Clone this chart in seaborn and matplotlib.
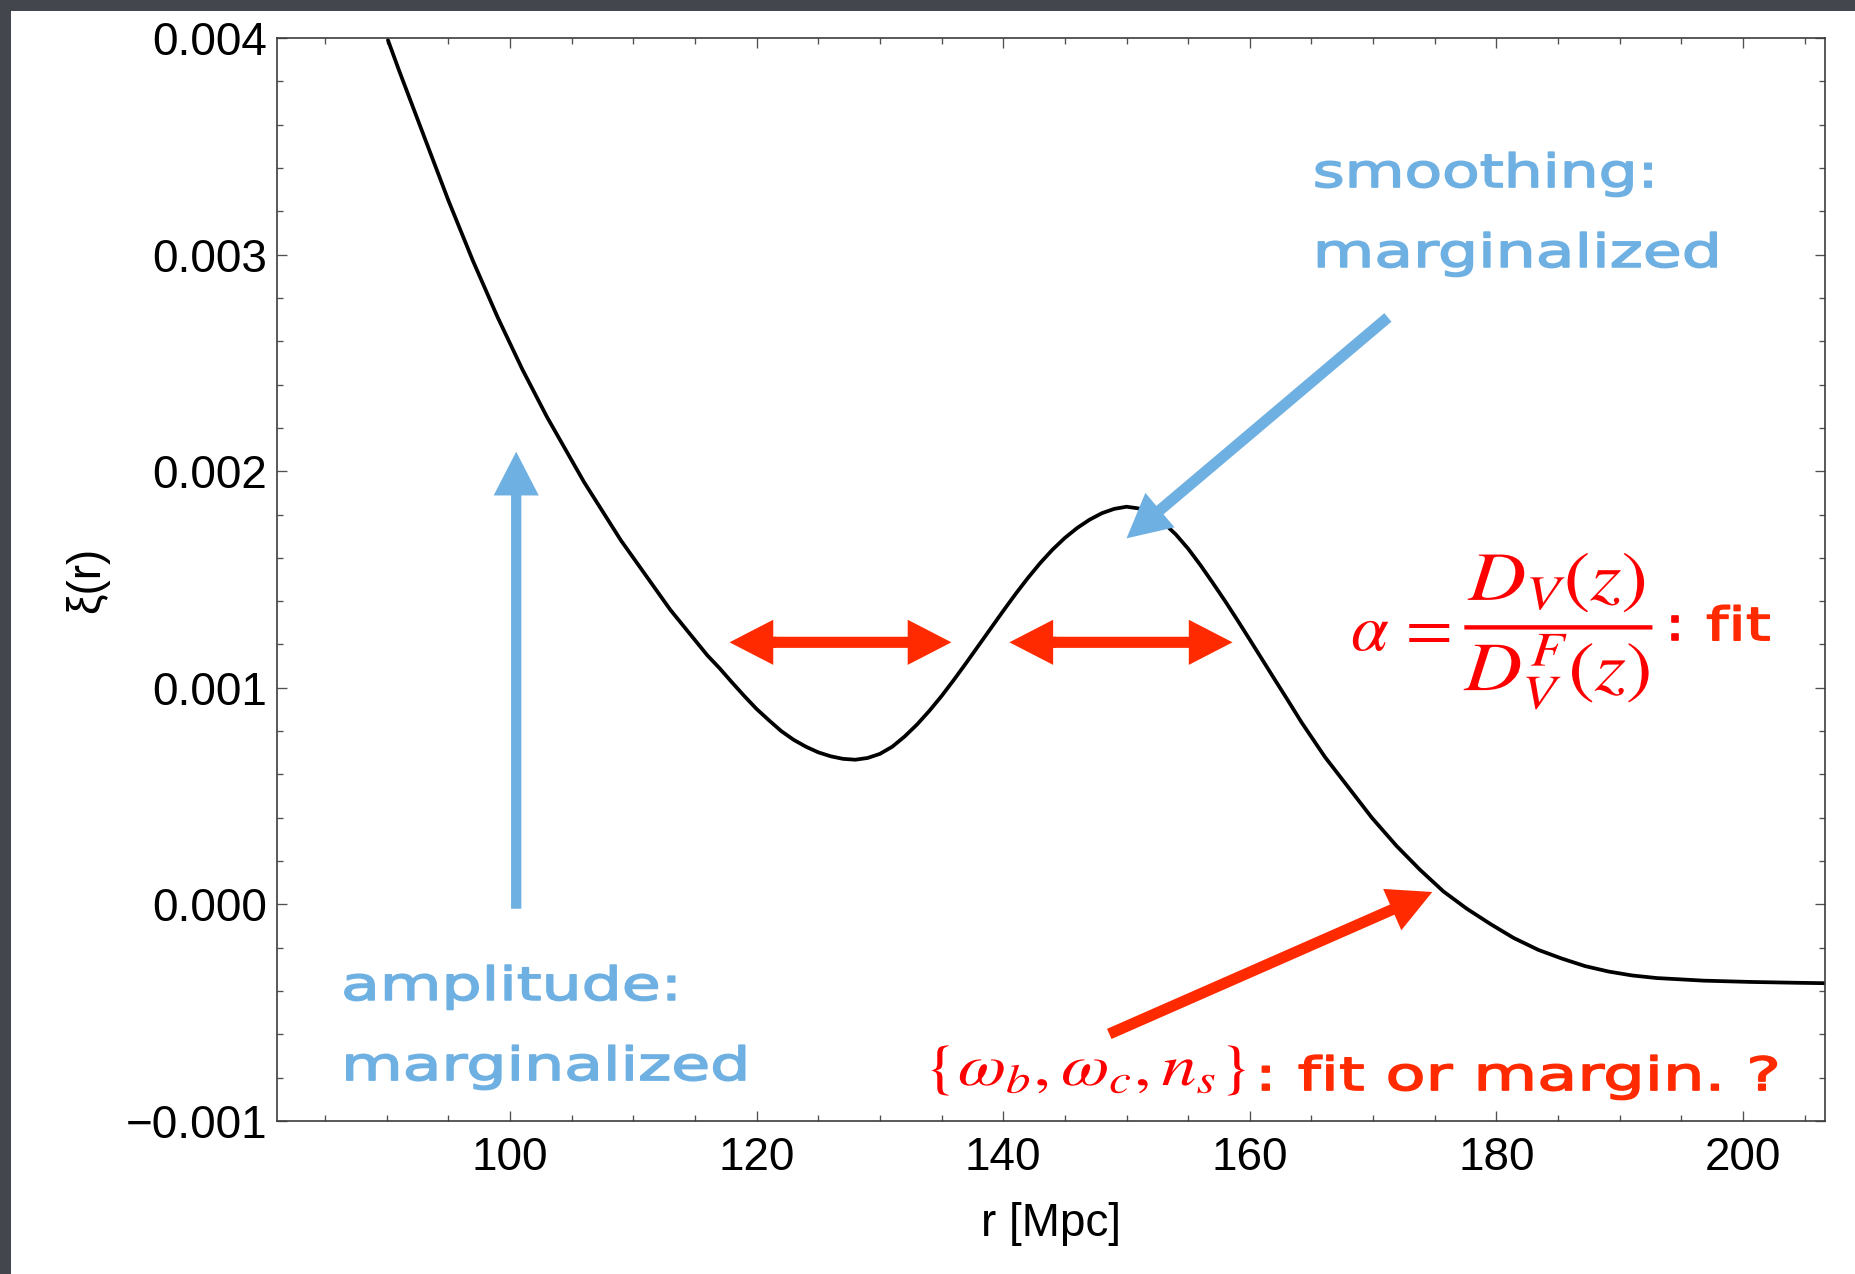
import numpy as np
import pandas as pd
import matplotlib
matplotlib.use("Agg")
import matplotlib.pyplot as plt
import seaborn as sns
from matplotlib.patches import Rectangle, FancyArrowPatch, ArrowStyle
from matplotlib.patheffects import AbstractPathEffect
from matplotlib.transforms import Affine2D
from matplotlib.ticker import MultipleLocator

# correlation function xi(r) around the BAO peak
r_mpc = [90.1, 91.0, 92.0, 93.0, 94.0, 95.0, 96.0, 97.0, 98.0, 99.0,
         100.0, 101.0, 102.0, 103.0, 104.0, 105.0, 106.0, 107.0, 108.0, 109.0,
         110.0, 111.0, 112.0, 113.0, 114.0, 115.0, 116.0, 117.0, 118.0, 119.0,
         120.0, 121.0, 122.0, 123.0, 124.0, 125.0, 126.0, 127.0, 128.0, 129.0,
         130.0, 131.0, 132.0, 133.0, 134.0, 135.0, 136.0, 137.0, 138.0, 139.0,
         140.0, 141.0, 142.0, 143.0, 144.0, 145.0, 146.0, 147.0, 148.0, 149.0,
         150.0, 151.0, 152.0, 153.0, 154.0, 155.0, 156.0, 157.0, 158.0, 159.0,
         160.0, 161.0, 162.0, 163.0, 164.2, 166.1, 168.0, 169.9, 171.9, 173.8,
         175.7, 177.6, 179.5, 181.4, 183.4, 185.3, 187.2, 189.1, 191.0, 193.0,
         196.8, 200.6, 204.5, 206.9]
xi_r = [0.003990, 0.003850, 0.003700, 0.003550, 0.003400, 0.003250, 0.003110, 0.002970, 0.002840, 0.002710,
        0.002590, 0.002470, 0.002360, 0.002250, 0.002150, 0.002050, 0.001950, 0.001860, 0.001770, 0.001680,
        0.001600, 0.001520, 0.001440, 0.001360, 0.001290, 0.001220, 0.001150, 0.001090, 0.001025, 0.000962,
        0.000902, 0.000850, 0.000800, 0.000760, 0.000728, 0.000702, 0.000684, 0.000672, 0.000668, 0.000676,
        0.000695, 0.000728, 0.000775, 0.000830, 0.000893, 0.000962, 0.001037, 0.001115, 0.001195, 0.001275,
        0.001355, 0.001433, 0.001507, 0.001576, 0.001638, 0.001692, 0.001738, 0.001776, 0.001806, 0.001826,
        0.001836, 0.001828, 0.001802, 0.001762, 0.001708, 0.001642, 0.001566, 0.001484, 0.001400, 0.001312,
        0.001222, 0.001131, 0.001040, 0.000950, 0.000840, 0.000680, 0.000540, 0.000400, 0.000270, 0.000160,
        0.000060, -0.000020, -0.000090, -0.000155, -0.000210, -0.000250, -0.000285, -0.000310, -0.000328, -0.000340,
        -0.000352, -0.000358, -0.000362, -0.000364]

x_ticks = [100, 120, 140, 160, 180, 200]
x_tick_labels = ["100", "120", "140", "160", "180", "200"]
y_ticks = [-0.001, 0.0, 0.001, 0.002, 0.003, 0.004]
y_tick_labels = ["\u22120.001", "0.000", "0.001", "0.002", "0.003", "0.004"]

BLUE = "#6FB0E2"
ORANGE_RED = "#FF2A00"
RED = "#FF0000"
HAND = "DejaVu Sans"


class Stretched(AbstractPathEffect):
    """Draw glyph outlines widened horizontally, with an optional outline stroke."""

    def __init__(self, sx=1.0, stroke=0.0):
        super().__init__()
        self.sx = sx
        self.stroke = stroke

    def draw_path(self, renderer, gc, tpath, affine, rgbFace=None):
        gc0 = renderer.new_gc()
        gc0.copy_properties(gc)
        if self.stroke and rgbFace is not None:
            gc0.set_linewidth(self.stroke)
            gc0.set_foreground(rgbFace)
            gc0.set_joinstyle("round")
        renderer.draw_path(gc0, tpath, Affine2D().scale(self.sx, 1.0) + affine, rgbFace)
        gc0.restore()


sns.set_theme(style="ticks")
plt.rcParams["font.family"] = ["Liberation Sans", "DejaVu Sans"]
plt.rcParams["mathtext.fontset"] = "stix"

fig = plt.figure(figsize=(18.55, 12.74), dpi=100)
fig.patch.set_facecolor("#44464E")
W, H = 1855, 1274
fig.patches.append(Rectangle((11 / W, 0), 1 - 11 / W, 1 - 11 / H,
                             transform=fig.transFigure, facecolor="white",
                             edgecolor="none", zorder=-10))

ax = fig.add_axes([277 / W, 1 - 1121 / H, (1825 - 277) / W, (1121 - 38) / H])
ax.set_facecolor("white")

df = pd.DataFrame({"r": r_mpc, "xi": xi_r})
sns.lineplot(data=df, x="r", y="xi", color="black", lw=2.7, ax=ax, zorder=2)

ax.set_xlim(81.1, 206.65)
ax.set_ylim(-0.001, 0.004)
ax.set_xticks(x_ticks, x_tick_labels)
ax.set_yticks(y_ticks, y_tick_labels)
ax.xaxis.set_minor_locator(MultipleLocator(5))
ax.yaxis.set_minor_locator(MultipleLocator(0.0002))
ax.tick_params(which="both", direction="in", top=True, right=True,
               color="#505050", width=0.95, labelsize=33, labelcolor="black")
ax.tick_params(which="major", length=7.3)
ax.tick_params(which="minor", length=4.3)
ax.tick_params(axis="x", pad=11)
ax.tick_params(axis="y", pad=7)
for s in ax.spines.values():
    s.set_color("#3C3C3C")
    s.set_linewidth(1.2)

ax.set_xlabel("r [Mpc]", fontsize=33, labelpad=16, color="black")
ax.set_ylabel("\u03be(r)", fontsize=33, labelpad=12, color="black")


def arrow(p0, p1, color, tail=7.8, head_w=32.5, head_l=31.5):
    style = ArrowStyle.Simple(head_length=head_l, head_width=head_w, tail_width=tail)
    a = FancyArrowPatch(p0, p1, arrowstyle=style, mutation_scale=1,
                        shrinkA=0, shrinkB=0, color=color, lw=0, zorder=3)
    ax.add_patch(a)


# amplitude and smoothing arrows
arrow((100.5, -0.00002), (100.5, 0.00209), BLUE, tail=7.4)
arrow((171.2, 0.00271), (150.0, 0.00169), BLUE, tail=8.0)

# alpha: shift of the peak, drawn as two-sided arrows
# (shaft with right head, plus a short left head joined onto the shaft)
for left, right in [(117.8, 135.8), (140.5, 158.6)]:
    arrow((left + 3.6, 0.00121), (right, 0.00121), ORANGE_RED, tail=8.0)
    arrow((left + 3.8, 0.00121), (left, 0.00121), ORANGE_RED, tail=8.0)

# cosmological parameters arrow
arrow((148.6, -0.000598), (174.8, 0.0000573), ORANGE_RED, tail=8.0)


def hand(x, y, s, color, sx=1.38):
    ax.text(x, y, s, color=color, family=HAND, fontsize=33, ha="left",
            va="baseline", path_effects=[Stretched(sx, 1.2)], zorder=4)


hand(86.3, -0.000441, "amplitude:", BLUE)
hand(86.3, -0.000811, "marginalized", BLUE)
hand(165.1, 0.003312, "smoothing:", BLUE, sx=1.34)
hand(165.1, 0.002943, "marginalized", BLUE)

ax.text(168.1, 0.001175, r"$\alpha\,=$", color=RED, fontsize=49,
        ha="left", va="baseline", zorder=4)
ax.text(177.4, 0.001225, r"$\dfrac{D_V(z)}{D_V^F(z)}$", color=RED, fontsize=50,
        ha="left", va="baseline", path_effects=[Stretched(1.15)], zorder=4)
hand(193.6, 0.00122, ":", RED)
hand(197.0, 0.00122, "fit", ORANGE_RED)

ax.text(133.6, -0.000834, r"$\{\omega_b,\omega_c,n_s\}$", color=RED, fontsize=42,
        ha="left", va="baseline", path_effects=[Stretched(1.2)], zorder=4)
hand(160.4, -0.000857, ": fit or margin. ?", ORANGE_RED, sx=1.43)

fig.savefig("out.png", dpi=100, facecolor=fig.get_facecolor())
